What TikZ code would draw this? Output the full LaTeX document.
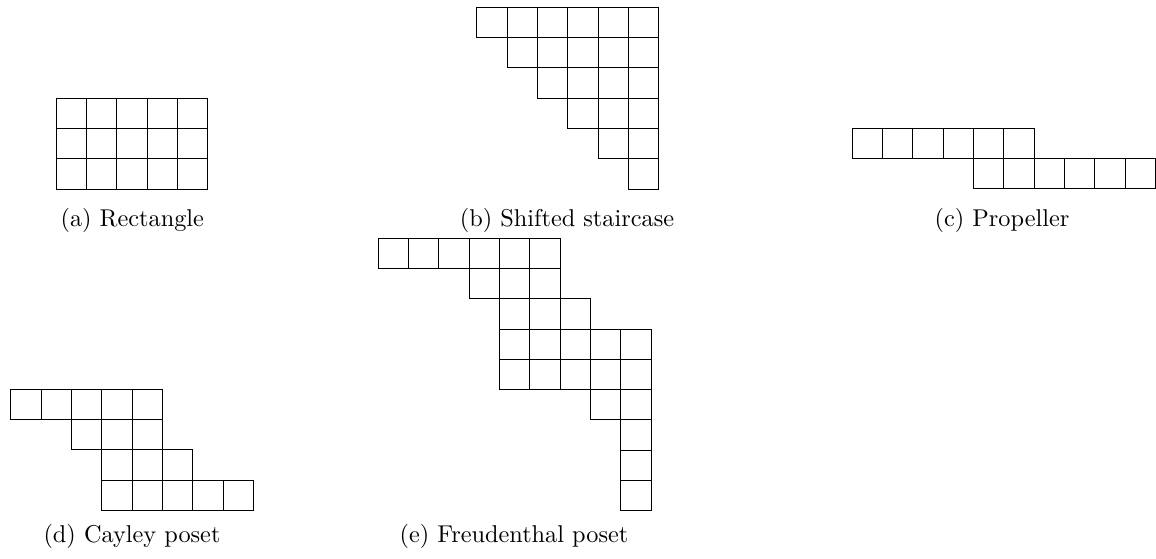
\documentclass[tikz,border=0pt]{standalone}
\begin{document}
\begin{tikzpicture}[x=0.4115pt,y=-0.4115pt,
  cellbox/.style={draw=black,line width=0.4pt},
  captext/.style={anchor=base,inner sep=0pt,font=\normalsize}]
\useasboundingbox (0,0) rectangle (1156,559);
\def\s{30.33}
% row drawing helper: origin x, origin y, row, first col, last col
\newcommand{\cellrow}[5]{%
  \foreach \c in {#4,...,#5}{%
    \draw[cellbox] ({#1+\c*\s},{#2+#3*\s}) rectangle ++(\s,\s);}}
% (a) Rectangle
\foreach \r in {0,1,2}{\cellrow{56}{98.3}{\r}{0}{4}}
\node[captext] (capa) at (132.3,226.5) {(a) Rectangle};
% (b) Shifted staircase
\foreach \r in {0,...,5}{\cellrow{476.7}{7.3}{\r}{\r}{5}}
\node[captext] (capb) at (567,226.5) {(b) Shifted staircase};
% (c) Propeller
\cellrow{852.3}{128.3}{0}{0}{5}
\cellrow{852.3}{128.3}{1}{4}{9}
\node[captext] (capc) at (1002,226.5) {(c) Propeller};
% (d) Cayley poset
\cellrow{10.7}{389.3}{0}{0}{4}
\cellrow{10.7}{389.3}{1}{2}{4}
\cellrow{10.7}{389.3}{2}{3}{5}
\cellrow{10.7}{389.3}{3}{3}{7}
\node[captext] (capd) at (132,542) {(d) Cayley poset};
% (e) Freudenthal poset
\cellrow{378.3}{238}{0}{0}{5}
\cellrow{378.3}{238}{1}{3}{5}
\cellrow{378.3}{238}{2}{4}{6}
\cellrow{378.3}{238}{3}{4}{8}
\cellrow{378.3}{238}{4}{4}{8}
\cellrow{378.3}{238}{5}{7}{8}
\cellrow{378.3}{238}{6}{8}{8}
\cellrow{378.3}{238}{7}{8}{8}
\cellrow{378.3}{238}{8}{8}{8}
\node[captext] (cape) at (514,542) {(e) Freudenthal poset};
\end{tikzpicture}
\end{document}
